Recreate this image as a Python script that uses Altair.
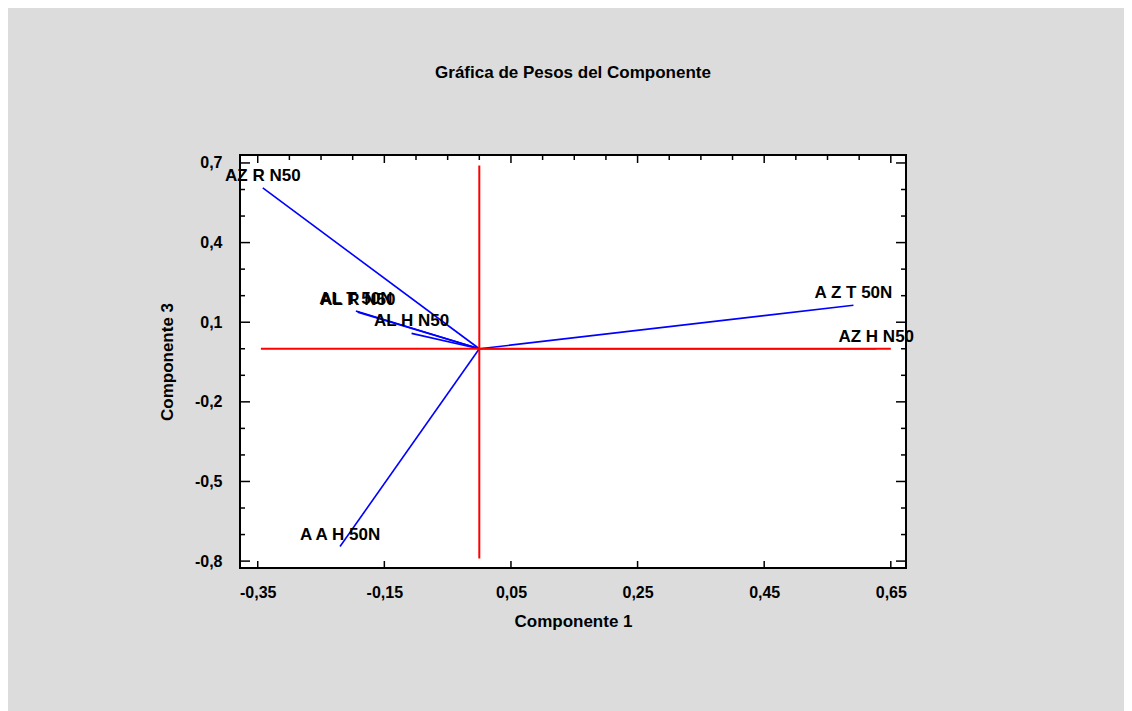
import altair as alt
import pandas as pd

# Loadings (Componente 1, Componente 3)
names = ["AZ R N50", "AL T 50N", "AL R N50", "AL  H N50", "A Z T 50N", "AZ H N50", "A A H 50N"]
comp1 = [-0.342, -0.195, -0.192, -0.107, 0.591, 0.627, -0.220]
comp3 = [0.606, 0.142, 0.138, 0.058, 0.164, 0.000, -0.745]

# reference axes (red)
hline_x = [-0.345, 0.65]
vline_y = [-0.79, 0.69]

x_major = [-0.35, -0.15, 0.05, 0.25, 0.45, 0.65]
x_minor = [-0.30, -0.25, -0.20, -0.10, -0.05, 0.0, 0.10, 0.15, 0.20, 0.30, 0.35, 0.40, 0.50, 0.55, 0.60]
y_major = [-0.8, -0.5, -0.2, 0.1, 0.4, 0.7]
y_minor = [-0.7, -0.6, -0.4, -0.3, -0.1, 0.0, 0.2, 0.3, 0.5, 0.6]

W, H = 666, 413
FONT = "Liberation Sans"

df = pd.DataFrame({"name": names, "c1": comp1, "c3": comp3, "o1": [0.0] * len(names), "o3": [0.0] * len(names)})
df_h = pd.DataFrame({"c1": [hline_x[0]], "x2": [hline_x[1]], "c3": [0.0]})
df_v = pd.DataFrame({"c3": [vline_y[0]], "y2": [vline_y[1]], "c1": [0.0]})

xs = alt.Scale(domain=[-0.378, 0.674], nice=False, zero=False)
ys = alt.Scale(domain=[-0.826, 0.73], nice=False, zero=False)

lab_expr = "replace(toString(datum.value), '.', ',')"

xaxis = alt.Axis(values=x_major, labelExpr=lab_expr, title="Componente 1", grid=False, ticks=False,
                 domain=False, labelPadding=16, labelFont=FONT, labelFontSize=16, labelFontWeight="bold",
                 labelColor="black", titleFont=FONT, titleFontSize=17, titleFontWeight="bold",
                 titleColor="black", titlePadding=13)
yaxis = alt.Axis(values=y_major, labelExpr=lab_expr, title="Componente 3", grid=False, ticks=False,
                 domain=False, labelPadding=18, labelFont=FONT, labelFontSize=16, labelFontWeight="bold",
                 labelColor="black", titleFont=FONT, titleFontSize=17, titleFontWeight="bold",
                 titleColor="black", titlePadding=18)

X = alt.X("c1:Q", scale=xs, axis=xaxis)
Y = alt.Y("c3:Q", scale=ys, axis=yaxis)

vectors = alt.Chart(df).mark_rule(color="#0000ff", strokeWidth=1.6).encode(
    x=X, y=Y, x2="o1:Q", y2="o3:Q",
)

hline = alt.Chart(df_h).mark_rule(color="#ff0000", strokeWidth=2).encode(x=X, x2="x2:Q", y=Y)
vline = alt.Chart(df_v).mark_rule(color="#ff0000", strokeWidth=2).encode(y=Y, y2="y2:Q", x=X)

labels = alt.Chart(df).mark_text(dy=-12, font=FONT, fontSize=17, fontWeight="bold", color="black",
                                 align="center", baseline="middle").encode(
    x=X, y=Y, text="name:N",
)

def xticks(vals, y0, y1):
    return alt.Chart(pd.DataFrame({"c1": vals})).mark_rule(color="black", strokeWidth=1.5).encode(
        x=X, y=alt.value(y0), y2=alt.value(y1))

def yticks(vals, x0, x1):
    return alt.Chart(pd.DataFrame({"c3": vals})).mark_rule(color="black", strokeWidth=1.5).encode(
        y=Y, x=alt.value(x0), x2=alt.value(x1))

ticks = [
    xticks(x_major, H, H - 7),
    xticks(x_major, 0, 8),
    xticks(x_minor, 0, 5),
    yticks(y_major, 0, 10),
    yticks(y_minor, 0, 5),
    yticks(y_major, W, W - 10),
    yticks(y_minor, W, W - 5),
]

chart = alt.layer(vectors, hline, vline, labels, *ticks).properties(
    width=W,
    height=H,
    title=alt.TitleParams("Gráfica de Pesos del Componente", font=FONT, fontSize=17, fontWeight="bold",
                          color="black", offset=72, anchor="middle", frame="group"),
    padding={"left": 232, "top": 147, "right": 218, "bottom": 143},
    autosize=alt.AutoSizeParams(type="none"),
    background="#dcdcdc",
).configure_view(stroke="black", strokeWidth=2, fill="white")

chart.save("out.html", embed_options={"renderer": "svg", "actions": False})
